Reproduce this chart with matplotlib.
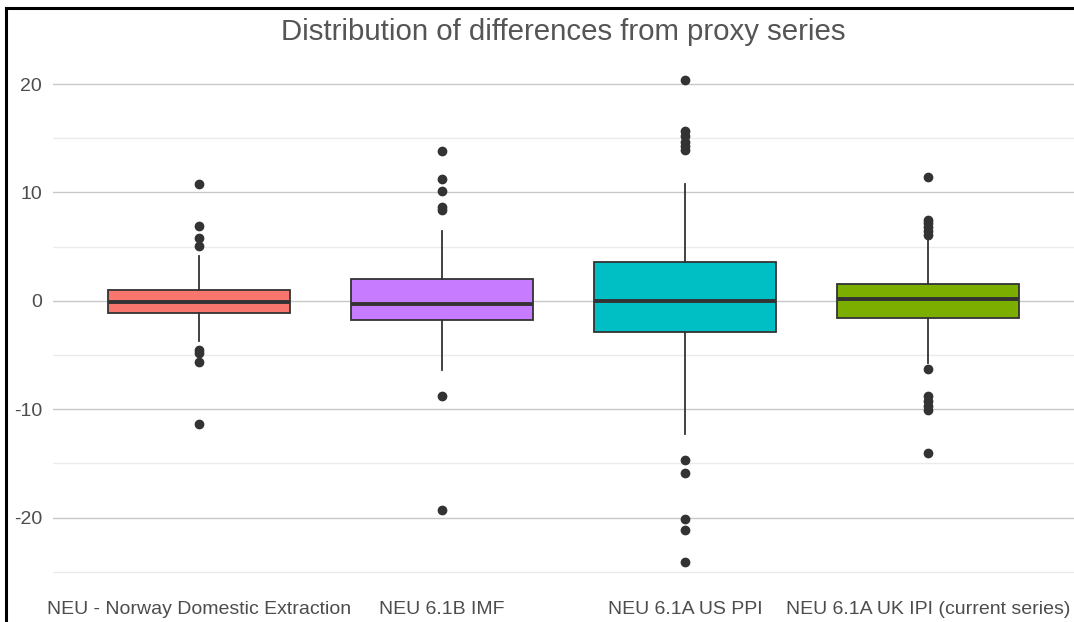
import matplotlib.pyplot as plt
from matplotlib.lines import Line2D

plt.rcParams['font.family'] = ['Liberation Sans', 'DejaVu Sans']
plt.rcParams['axes.unicode_minus'] = False

# box statistics
labels = ["NEU - Norway Domestic Extraction", "NEU 6.1B IMF",
          "NEU 6.1A US PPI", "NEU 6.1A UK IPI (current series)"]
colors = ["#F8766D", "#C77CFF", "#00BFC4", "#7CAE00"]
q1 = [-1.1, -1.8, -2.9, -1.6]
med = [-0.1, -0.3, 0.0, 0.2]
q3 = [1.0, 2.0, 3.6, 1.6]
whislo = [-3.7, -6.4, -12.3, -5.7]
whishi = [4.1, 6.4, 10.8, 5.6]
outliers = [
    [10.8, 6.9, 5.8, 5.1, -4.5, -4.8, -5.6, -11.4],
    [13.8, 11.2, 10.1, 8.7, 8.4, -8.8, -19.3],
    [20.4, 15.7, 15.2, 14.7, 14.3, 13.9, -14.7, -15.9, -20.1, -21.1, -24.1],
    [11.4, 7.5, 7.2, 6.8, 6.4, 6.1, -6.3, -8.8, -9.2, -9.7, -10.1, -14.0],
]

stats = []
for i in range(len(labels)):
    stats.append(dict(q1=q1[i], med=med[i], q3=q3[i], whislo=whislo[i],
                      whishi=whishi[i], fliers=outliers[i], label=labels[i]))

fig = plt.figure(figsize=(10.74, 6.22), dpi=100)
ax = fig.add_axes([53 / 1074, (622 - 587) / 622, 1 - 53 / 1074, (587 - 57) / 622])

ink = "#333333"
bp = ax.bxp(stats, positions=[1, 2, 3, 4], widths=0.75, patch_artist=True,
            showcaps=False,
            boxprops=dict(edgecolor=ink, linewidth=1.3),
            whiskerprops=dict(color=ink, linewidth=1.3),
            medianprops=dict(color=ink, linewidth=2.8, solid_capstyle='butt'),
            flierprops=dict(marker='o', markerfacecolor=ink, markeredgecolor=ink,
                            markersize=6, linestyle='none'))
for patch, c in zip(bp['boxes'], colors):
    patch.set_facecolor(c)
    patch.set_zorder(2)
for key in ('whiskers', 'medians', 'fliers'):
    for art in bp[key]:
        art.set_zorder(3)

ax.set_xlim(0.4, 4.6)
ax.set_ylim(-26.4, 22.5)
ax.set_yticks([-20, -10, 0, 10, 20])
ax.set_yticks([-25, -15, -5, 5, 15], minor=True)
ax.grid(axis='y', which='major', color='#C8C8C8', linewidth=1.0)
ax.grid(axis='y', which='minor', color='#EBEBEB', linewidth=1.0)
ax.set_axisbelow(True)
for s in ax.spines.values():
    s.set_visible(False)
ax.tick_params(axis='both', which='both', length=0, labelsize=14, labelcolor='#4D4D4D')
ax.tick_params(axis='x', pad=10)
ax.tick_params(axis='y', pad=8)
ax.set_xticks([1, 2, 3, 4])
ax.set_xticklabels(labels)

ax.set_title("Distribution of differences from proxy series", fontsize=21.2,
             color='#555555', pad=12)

# screenshot frame on the left and top
fig.add_artist(Line2D([6 / 1074, 6 / 1074], [0, 1 - 8 / 622], color='black',
                      linewidth=2.2, transform=fig.transFigure))
fig.add_artist(Line2D([6 / 1074, 1], [1 - 8 / 622, 1 - 8 / 622], color='black',
                      linewidth=2.2, transform=fig.transFigure))

fig.savefig("out.png", dpi=100)
